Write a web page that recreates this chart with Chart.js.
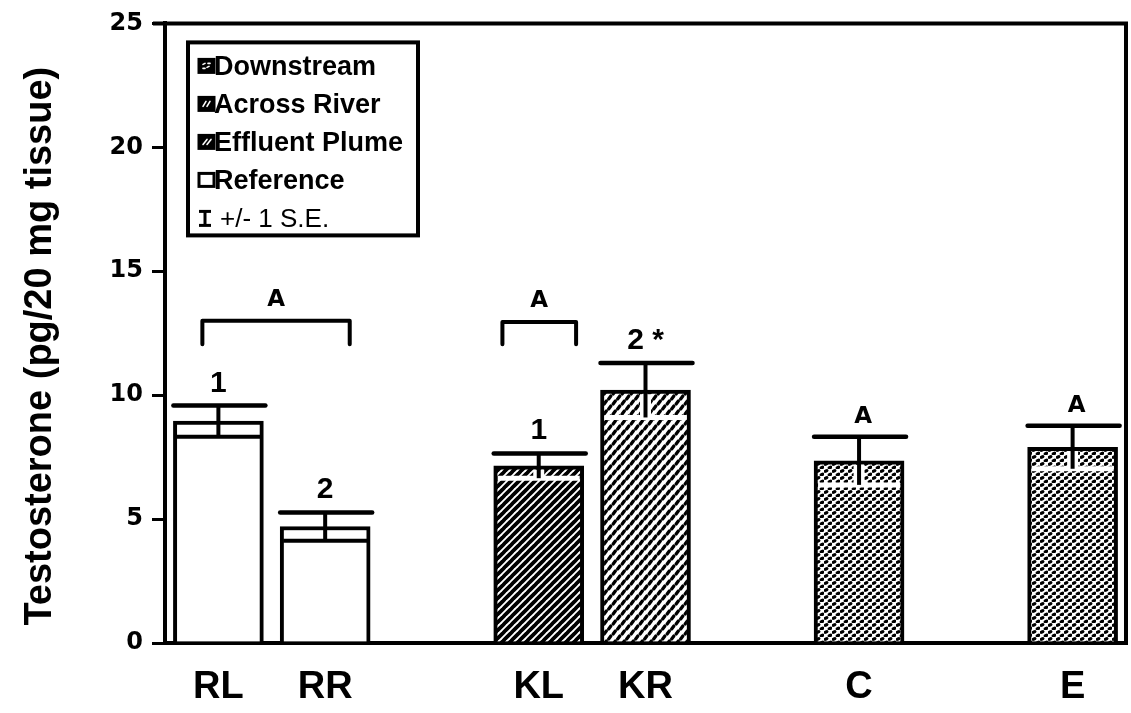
<!DOCTYPE html>
<html>
<head>
<meta charset="utf-8">
<script src="https://cdn.jsdelivr.net/npm/chart.js@4.4.1/dist/chart.umd.min.js"></script>
<style>
  html, body { margin: 0; padding: 0; background: #fff; }
  #wrap { width: 1131px; height: 713px; }
</style>
</head>
<body>
<div id="wrap"><canvas id="c" width="1131" height="713"></canvas></div>
<script>
// Sampling sites (blank entries are spacer slots between site groups)
const sites = ['RL', 'RR', '', 'KL', 'KR', '', 'C', '', 'E'];
const siteGroups = ['Reference', 'Reference', null, 'Effluent Plume', 'Across River', null, 'Downstream', null, 'Downstream'];
// Mean testosterone, pg / 20 mg tissue
const meanTestosterone = [8.95, 4.7, null, 7.15, 10.2, null, 7.35, null, 7.9];
// +/- 1 standard error
const stdError = [0.63, 0.57, null, 0.5, 1.1, null, 0.97, null, 0.87];
// Significance labels above each bar
const sigLabels = ['1', '2', null, '1', '2 *', null, 'A', null, 'A'];
// Brackets joining sites that share a letter
const bracketSites = [['RL', 'RR'], ['KL', 'KL']];
const bracketLetters = ['A', 'A'];
const bracketLevel = [13.0, 12.95];
// Legend entries
const legendGroups = ['Downstream', 'Across River', 'Effluent Plume', 'Reference'];
const errorLegendText = '+/- 1 S.E.';
const yTicks = [0, 5, 10, 15, 20, 25];
const yTitle = 'Testosterone (pg/20 mg tissue)';

const canvas = document.getElementById('c');
const baseCtx = canvas.getContext('2d');

function tile(w, h, paint) {
  const t = document.createElement('canvas');
  t.width = w; t.height = h;
  const g = t.getContext('2d');
  g.fillStyle = '#fff';
  g.fillRect(0, 0, w, h);
  g.fillStyle = '#000';
  g.strokeStyle = '#000';
  paint(g, w, h);
  return baseCtx.createPattern(t, 'repeat');
}

// short "/" dash repeated across tile edges so the pattern wraps cleanly
function wrapDash(g, w, h, cx, cy, len) {
  const dx = len / 2 * 0.6, dy = len / 2 * 0.8;
  for (const ox of [-w, 0, w]) {
    for (const oy of [-h, 0, h]) {
      g.beginPath();
      g.moveTo(cx + ox - dx, cy + oy + dy);
      g.lineTo(cx + ox + dx, cy + oy - dy);
      g.stroke();
    }
  }
}

const fills = {
  'Reference': '#ffffff',
  'Effluent Plume': tile(8, 8, g => {
    g.lineWidth = 3.8;
    g.beginPath();
    for (let k = -1; k <= 1; k++) { g.moveTo(k * 8 - 1, 9); g.lineTo(k * 8 + 9, -1); }
    g.stroke();
  }),
  'Across River': tile(9, 10, (g, w, h) => {
    g.lineWidth = 3.2; g.lineCap = 'round';
    wrapDash(g, w, h, 2.25, 2.5, 3.6);
    wrapDash(g, w, h, 6.75, 7.5, 3.6);
  }),
  'Downstream': tile(8, 7, g => {
    g.beginPath(); g.ellipse(2, 2, 2.5, 1.7, -0.4, 0, Math.PI * 2); g.fill();
    g.beginPath(); g.ellipse(6, 5.5, 2.5, 1.7, -0.4, 0, Math.PI * 2); g.fill();
  })
};

function seg(ctx, x1, y1, x2, y2) {
  ctx.beginPath(); ctx.moveTo(x1, y1); ctx.lineTo(x2, y2); ctx.stroke();
}

const boldSans = '"Liberation Sans", Arial, sans-serif';
const wideSans = '"DejaVu Sans", sans-serif';

// Error whiskers, significance letters and brackets
const markupPlugin = {
  id: 'markup',
  afterDatasetsDraw(chart) {
    const { ctx, scales: { x, y } } = chart;
    const meta = chart.getDatasetMeta(0);
    ctx.save();
    meta.data.forEach((bar, i) => {
      const m = meanTestosterone[i];
      if (m == null) return;
      const se = stdError[i];
      const cx = bar.x, half = bar.width / 2;
      const yHi = y.getPixelForValue(m + se);
      const yLo = y.getPixelForValue(m - se);
      const plain = siteGroups[i] === 'Reference';
      ctx.lineCap = 'butt';
      if (plain) {
        ctx.strokeStyle = '#000'; ctx.lineWidth = 4;
        seg(ctx, cx - half + 3, yLo, cx + half - 3, yLo);
      } else {
        ctx.strokeStyle = '#fff'; ctx.lineWidth = 5;
        seg(ctx, cx - half + 4, yLo, cx + half - 4, yLo);
        ctx.lineWidth = 11;
        seg(ctx, cx, yLo, cx, bar.y + 4);
      }
      ctx.strokeStyle = '#000'; ctx.lineWidth = 4;
      seg(ctx, cx, yLo, cx, yHi);
      ctx.lineCap = 'round';
      ctx.lineWidth = 4.5;
      seg(ctx, cx - half, yHi, cx + half + 2, yHi);

      const lab = sigLabels[i];
      if (lab) {
        ctx.fillStyle = '#000';
        ctx.textAlign = 'center';
        ctx.textBaseline = 'alphabetic';
        ctx.font = lab === 'A' ? 'bold 23px ' + wideSans : 'bold 30px ' + boldSans;
        ctx.fillText(lab, cx + (lab === 'A' ? 4 : 0), yHi - 14);
      }
    });

    // brackets
    const slot = (x.right - x.left) / sites.length;
    const endOffsets = [[-0.15, 0.23], [-0.34, 0.35]];
    bracketSites.forEach((pair, k) => {
      const i0 = sites.indexOf(pair[0]), i1 = sites.indexOf(pair[1]);
      const xa = x.getPixelForValue(i0) + endOffsets[k][0] * slot;
      const xb = x.getPixelForValue(i1) + endOffsets[k][1] * slot;
      const yb = y.getPixelForValue(bracketLevel[k]);
      const yLeg = y.getPixelForValue(12.05);
      ctx.strokeStyle = '#000'; ctx.lineWidth = 4; ctx.lineCap = 'round'; ctx.lineJoin = 'round';
      ctx.beginPath();
      ctx.moveTo(xa, yLeg); ctx.lineTo(xa, yb); ctx.lineTo(xb, yb); ctx.lineTo(xb, yLeg);
      ctx.stroke();
      ctx.fillStyle = '#000';
      ctx.font = 'bold 23px ' + wideSans;
      ctx.textAlign = 'center';
      ctx.textBaseline = 'alphabetic';
      ctx.fillText(bracketLetters[k], (xa + xb) / 2, yb - 15);
    });
    ctx.restore();
  },
  afterDraw(chart) {
    const { ctx, chartArea: a } = chart;
    ctx.save();
    // top and right frame
    ctx.strokeStyle = '#000'; ctx.lineWidth = 4; ctx.lineCap = 'butt';
    seg(ctx, a.left - 12, a.top, a.right + 2, a.top);
    seg(ctx, a.right, a.top, a.right, a.bottom + 2);

    // vertical axis title
    ctx.save();
    ctx.translate(41, (a.top + a.bottom) / 2 + 13);
    ctx.rotate(-Math.PI / 2);
    ctx.fillStyle = '#000';
    ctx.font = 'bold 38px ' + boldSans;
    ctx.textAlign = 'center';
    ctx.textBaseline = 'middle';
    ctx.fillText(yTitle, 0, 0);
    ctx.restore();

    // legend box
    const lx = a.left + 23, ly = a.top + 19, lw = 230, lh = 193;
    ctx.fillStyle = '#fff';
    ctx.fillRect(lx, ly, lw, lh);
    ctx.strokeStyle = '#000'; ctx.lineWidth = 4;
    ctx.strokeRect(lx, ly, lw, lh);
    ctx.textAlign = 'left';
    ctx.textBaseline = 'middle';
    legendGroups.forEach((g, i) => {
      const cy = ly + 24 + 38 * i;
      const sx = lx + 11, sy = cy - 7, sw = 15, sh = 13;
      if (g === 'Reference') {
        ctx.fillStyle = '#fff';
        ctx.fillRect(sx, sy, sw, sh);
      } else {
        ctx.fillStyle = '#000';
        ctx.fillRect(sx, sy, sw, sh);
        ctx.strokeStyle = '#fff'; ctx.lineWidth = 1.6; ctx.lineCap = 'round';
        if (g === 'Downstream') {
          seg(ctx, sx + 4, sy + 5, sx + 6, sy + 4); seg(ctx, sx + 8, sy + 8, sx + 10, sy + 7);
          seg(ctx, sx + 9, sy + 4, sx + 11, sy + 4); seg(ctx, sx + 4, sy + 9, sx + 6, sy + 9);
        } else if (g === 'Across River') {
          seg(ctx, sx + 4, sy + 9, sx + 7, sy + 4); seg(ctx, sx + 8, sy + 9, sx + 11, sy + 4);
        } else {
          seg(ctx, sx + 4, sy + 9, sx + 8, sy + 4); seg(ctx, sx + 8, sy + 9, sx + 12, sy + 4);
        }
      }
      ctx.strokeStyle = '#000'; ctx.lineWidth = 3; ctx.lineCap = 'butt';
      ctx.strokeRect(sx, sy, sw, sh);
      ctx.fillStyle = '#000';
      ctx.font = 'bold 27px ' + boldSans;
      ctx.fillText(g, lx + 26, cy + 1);
    });
    // error-bar key
    const ey = ly + 24 + 38 * 4;
    const ix = lx + 17;
    ctx.strokeStyle = '#000'; ctx.lineWidth = 3;
    seg(ctx, ix, ey - 7, ix, ey + 7);
    seg(ctx, ix - 6, ey - 7, ix + 6, ey - 7);
    seg(ctx, ix - 6, ey + 7, ix + 6, ey + 7);
    ctx.fillStyle = '#000';
    ctx.font = '26px ' + boldSans;
    ctx.fillText(errorLegendText, lx + 32, ey + 1);
    ctx.restore();
  }
};

new Chart(canvas, {
  type: 'bar',
  data: {
    labels: sites,
    datasets: [{
      label: 'Testosterone',
      data: meanTestosterone,
      backgroundColor: siteGroups.map(g => g ? fills[g] : '#fff'),
      borderColor: '#000',
      borderWidth: 4,
      borderSkipped: 'start',
      barThickness: 90
    }]
  },
  options: {
    responsive: false,
    animation: false,
    devicePixelRatio: 1,
    layout: { padding: { left: 0, top: 18, right: 5, bottom: 0 } },
    plugins: { legend: { display: false }, tooltip: { enabled: false } },
    scales: {
      x: {
        type: 'category',
        offset: true,
        grid: { display: false },
        border: { display: true, color: '#000', width: 4 },
        ticks: {
          color: '#000',
          font: { family: boldSans, size: 38, weight: 'bold' },
          padding: 14,
          autoSkip: false,
          maxRotation: 0
        },
        afterFit(scale) { scale.height = 70; }
      },
      y: {
        min: 0,
        max: 25,
        afterBuildTicks(scale) { scale.ticks = yTicks.map(v => ({ value: v })); },
        grid: { display: true, drawOnChartArea: false, drawTicks: true, tickLength: 13, lineWidth: 3, color: '#000' },
        border: { display: true, color: '#000', width: 4 },
        ticks: {
          color: '#000',
          font: { family: wideSans, size: 24, weight: 'bold' },
          padding: 9
        },
        afterFit(scale) { scale.width = 165; }
      }
    }
  },
  plugins: [markupPlugin]
});
</script>
</body>
</html>
